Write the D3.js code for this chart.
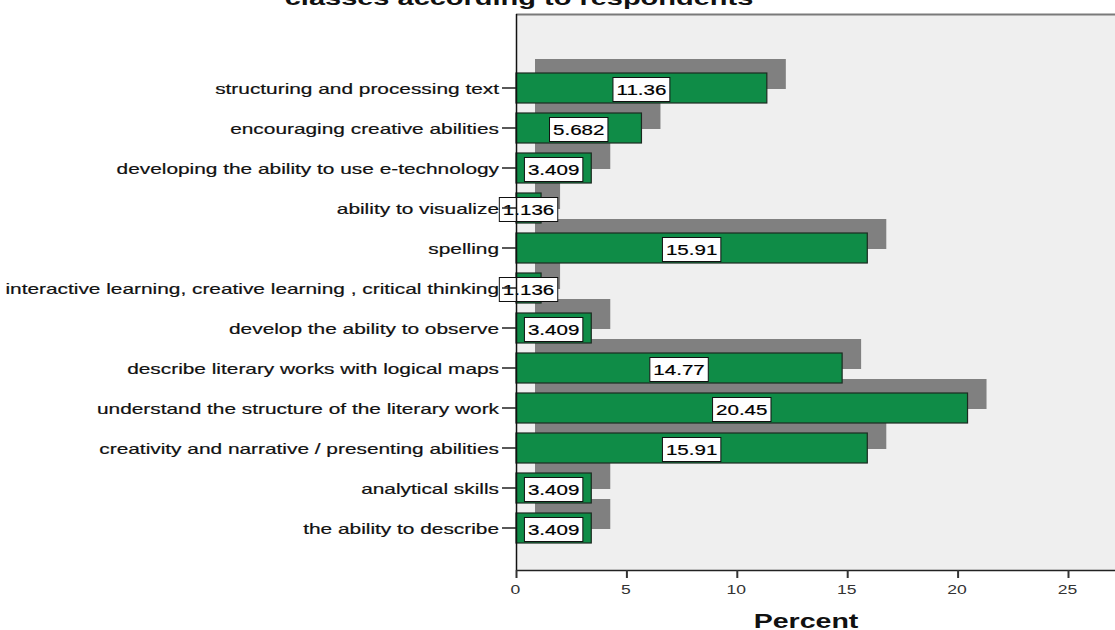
<!DOCTYPE html>
<html>
<head>
<meta charset="utf-8">
<script src="https://cdn.jsdelivr.net/npm/d3@7"></script>
<style>
  html, body { margin: 0; padding: 0; background: #fff; overflow: hidden; }
  svg { display: block; font-family: "Liberation Sans", Arial, sans-serif; }
</style>
</head>
<body>
<div id="chart"></div>
<script>
const categories = [
  "structuring and processing text",
  "encouraging creative abilities",
  "developing the ability to use e-technology",
  "ability to visualize",
  "spelling",
  "interactive learning, creative learning , critical thinking",
  "develop the ability to observe",
  "describe literary works with logical maps",
  "understand the structure of the literary work",
  "creativity and narrative / presenting abilities",
  "analytical skills",
  "the ability to describe"
];
const percents = [11.36, 5.682, 3.409, 1.136, 15.91, 1.136, 3.409, 14.77, 20.45, 15.91, 3.409, 3.409];
const xTicks = [0, 5, 10, 15, 20, 25];
const titleText = "classes according to respondents";
const xTitle = "Percent";

const W = 1115, H = 630;
const plot = { left: 516, top: 14, bottom: 570, right: 1140 };
// the picture is stretched horizontally, so text is widened to match
const SX = 1.39;

const data = categories.map((c, i) => ({ cat: c, value: percents[i] }));

const svg = d3.select("#chart").append("svg")
  .attr("width", W)
  .attr("height", H);

const x = d3.scaleLinear().domain([0, 25]).range([plot.left, 1068]);
const y = d3.scaleBand()
  .domain(categories)
  .range([68, 548])
  .paddingInner(0.25)
  .paddingOuter(0.125);

const fmt = d3.format(".4");

// plot background
svg.append("rect")
  .attr("x", plot.left).attr("y", plot.top)
  .attr("width", plot.right - plot.left)
  .attr("height", plot.bottom - plot.top)
  .attr("fill", "#efefef");

svg.append("line")
  .attr("x1", plot.left).attr("x2", plot.right)
  .attr("y1", plot.top + 0.5).attr("y2", plot.top + 0.5)
  .attr("stroke", "#7a7a7a").attr("stroke-width", 2);

// shadows first so bars sit on top
const shadowDx = 19, shadowDy = -14;
svg.append("g").selectAll("rect")
  .data(data)
  .join("rect")
  .attr("x", x(0) + shadowDx)
  .attr("y", d => y(d.cat) + shadowDy)
  .attr("width", d => x(d.value) - x(0))
  .attr("height", y.bandwidth())
  .attr("fill", "#808080");

svg.append("g").selectAll("rect")
  .data(data)
  .join("rect")
  .attr("x", x(0))
  .attr("y", d => y(d.cat))
  .attr("width", d => x(d.value) - x(0))
  .attr("height", y.bandwidth())
  .attr("fill", "#0f8c47")
  .attr("stroke", "#1b2a20")
  .attr("stroke-width", 1.2);

// value labels in white boxes
const labels = svg.append("g").selectAll("g")
  .data(data)
  .join("g")
  .attr("transform", d => `translate(${(x(0) + x(d.value)) / 2},${y(d.cat) + y.bandwidth() / 2 + 1.5})`);

labels.append("rect").attr("class", "box")
  .attr("fill", "#fff")
  .attr("stroke", "#111")
  .attr("stroke-width", 1);

labels.append("text")
  .attr("transform", `translate(0,5.5) scale(1.37,1)`)
  .attr("text-anchor", "middle")
  .attr("font-size", "15px")
  .attr("fill", "#000")
  .attr("stroke", "#000").attr("stroke-width", 0.2)
  .text(d => fmt(d.value));

labels.each(function () {
  const g = d3.select(this);
  const w = g.select("text").node().getComputedTextLength() * 1.37 + 7;
  g.select("rect.box")
    .attr("x", -w / 2).attr("y", -12)
    .attr("width", w).attr("height", 24);
});

// y axis
const yAxis = svg.append("g")
  .attr("transform", `translate(${plot.left},0)`)
  .call(d3.axisLeft(y).tickSize(14).tickPadding(2));
yAxis.select(".domain").attr("stroke", "#111").attr("stroke-width", 1.5)
  .attr("d", `M0.5,${plot.top}V${plot.bottom}`);
yAxis.selectAll(".tick line").attr("stroke", "#222").attr("stroke-width", 1.5);
yAxis.selectAll(".tick text")
  .attr("x", null).attr("dy", null)
  .attr("transform", `translate(-17,6) scale(${SX},1)`)
  .attr("font-size", "15px")
  .attr("font-family", "Liberation Sans, Arial, sans-serif")
  .attr("fill", "#111")
  .attr("stroke", "#111").attr("stroke-width", 0.2);

// x axis
const xAxis = svg.append("g")
  .attr("transform", `translate(0,${plot.bottom})`)
  .call(d3.axisBottom(x).tickValues(xTicks).tickSize(8).tickFormat(d3.format("d")));
xAxis.select(".domain").attr("stroke", "#222").attr("stroke-width", 1.5)
  .attr("d", `M${plot.left},0.5H${plot.right}`);
xAxis.selectAll(".tick line").attr("stroke", "#333").attr("stroke-width", 2);
xAxis.selectAll(".tick text")
  .attr("y", null).attr("dy", null)
  .attr("transform", `translate(-1,24) scale(1.35,1)`)
  .attr("font-size", "13px")
  .attr("font-family", "Liberation Sans, Arial, sans-serif")
  .attr("fill", "#333");

// titles
svg.append("text")
  .attr("transform", `translate(806,628) scale(1.36,1)`)
  .attr("text-anchor", "middle")
  .attr("font-size", "21px")
  .attr("font-weight", "bold")
  .attr("fill", "#111")
  .text(xTitle);

svg.append("text")
  .attr("transform", `translate(519,5) scale(1.38,1)`)
  .attr("text-anchor", "middle")
  .attr("font-size", "21px")
  .attr("font-weight", "bold")
  .attr("fill", "#111")
  .text(titleText);
</script>
</body>
</html>
